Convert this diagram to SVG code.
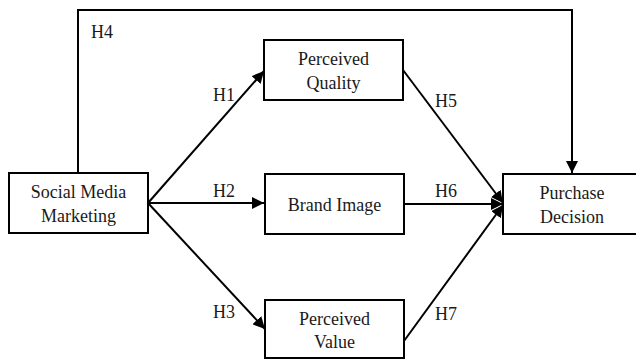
<svg xmlns="http://www.w3.org/2000/svg" width="636" height="359" viewBox="0 0 636 359">
<style>
.box{fill:#fff;stroke:#000;stroke-width:2}
.t{font-family:"Liberation Serif","Times New Roman",serif;font-size:18px;fill:#1a1a1a;text-anchor:middle}
.lb{font-family:"Liberation Serif","Times New Roman",serif;font-size:18px;fill:#1a1a1a}
.c{fill:none;stroke:#000;stroke-width:2}
</style>
<defs>
<marker id="ah" markerUnits="userSpaceOnUse" markerWidth="14" markerHeight="12" refX="12" refY="6" orient="auto">
<path d="M0,0 L12,6 L0,12 Z" fill="#000"/>
</marker>
</defs>
<rect width="636" height="359" fill="#fff"/>
<g id="connectors">
<path class="c" d="M78,173 V10 H572 V173" marker-end="url(#ah)"/>
<line class="c" x1="148" y1="203" x2="264" y2="71" marker-end="url(#ah)"/>
<line class="c" x1="148" y1="203" x2="264" y2="203" marker-end="url(#ah)"/>
<line class="c" x1="148" y1="203" x2="265" y2="329" marker-end="url(#ah)"/>
<line class="c" x1="403" y1="70" x2="503" y2="203" marker-end="url(#ah)"/>
<line class="c" x1="404" y1="204" x2="503" y2="204" marker-end="url(#ah)"/>
<line class="c" x1="404" y1="341" x2="503" y2="205" marker-end="url(#ah)"/>
<text class="lb" x="91" y="38">H4</text>
<text class="lb" x="213" y="101">H1</text>
<text class="lb" x="213" y="197">H2</text>
<text class="lb" x="213" y="318">H3</text>
<text class="lb" x="435" y="107">H5</text>
<text class="lb" x="435" y="197">H6</text>
<text class="lb" x="435" y="320">H7</text>
</g>
<g id="smm">
<rect class="box" x="9" y="173" width="139" height="60"/>
<text class="t" x="78.5" y="198">Social Media</text>
<text class="t" x="78.5" y="222">Marketing</text>
</g>
<g id="pq">
<rect class="box" x="264" y="40" width="139" height="60"/>
<text class="t" x="333.5" y="65">Perceived</text>
<text class="t" x="333.5" y="89">Quality</text>
</g>
<g id="bi">
<rect class="box" x="265" y="174" width="139" height="60"/>
<text class="t" x="334.5" y="211">Brand Image</text>
</g>
<g id="pv">
<rect class="box" x="265" y="300" width="139" height="58"/>
<text class="t" x="334.5" y="325">Perceived</text>
<text class="t" x="334.5" y="348">Value</text>
</g>
<g id="pd">
<rect class="box" x="503" y="174" width="140" height="60"/>
<text class="t" x="572" y="199">Purchase</text>
<text class="t" x="572" y="223">Decision</text>
</g>
</svg>
